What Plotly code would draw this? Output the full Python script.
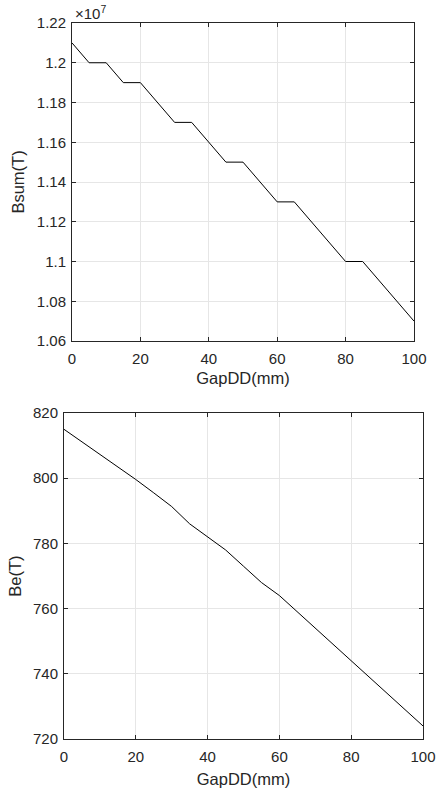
import plotly.graph_objects as go

gap_mm = [0, 5, 10, 15, 20, 25, 30, 35, 40, 45, 50, 55, 60, 65, 70, 75, 80, 85, 90, 95, 100]
bsum_T = [1.21e7, 1.20e7, 1.20e7, 1.19e7, 1.19e7, 1.18e7, 1.17e7, 1.17e7, 1.16e7, 1.15e7, 1.15e7,
          1.14e7, 1.13e7, 1.13e7, 1.12e7, 1.11e7, 1.10e7, 1.10e7, 1.09e7, 1.08e7, 1.07e7]
be_T = [815, 811.2, 807.4, 803.5, 799.6, 795.5, 791.3, 786, 782, 778, 773,
        768, 764, 759, 754, 749, 744, 739, 734, 729, 724]

x_ticks = [0, 20, 40, 60, 80, 100]
bsum_tickvals = [1.06e7, 1.08e7, 1.10e7, 1.12e7, 1.14e7, 1.16e7, 1.18e7, 1.20e7, 1.22e7]
bsum_ticktext = ["1.06", "1.08", "1.1", "1.12", "1.14", "1.16", "1.18", "1.2", "1.22"]
be_ticks = [720, 740, 760, 780, 800, 820]

FONT = "Liberation Sans, Arial, sans-serif"
TXT = "#262626"
TICK_SIZE = 15
TITLE_SIZE = 16.5

fig = go.Figure()
fig.add_trace(go.Scatter(x=gap_mm, y=bsum_T, mode="lines", line=dict(color="black", width=1),
                         xaxis="x", yaxis="y", showlegend=False))
fig.add_trace(go.Scatter(x=gap_mm, y=be_T, mode="lines", line=dict(color="black", width=1),
                         xaxis="x2", yaxis="y2", showlegend=False))

common = dict(showline=True, linecolor=TXT, linewidth=1, mirror="ticks", ticks="inside",
              ticklen=4, tickcolor=TXT, showgrid=True, gridcolor="#e6e6e6", gridwidth=1,
              zeroline=False, automargin=False,
              tickfont=dict(family=FONT, size=TICK_SIZE, color=TXT))
title_font = dict(size=TITLE_SIZE, family=FONT, color=TXT)

fig.update_layout(
    width=437, height=792, margin=dict(l=0, r=0, t=0, b=0),
    paper_bgcolor="white", plot_bgcolor="white",
    font=dict(family=FONT, color=TXT),
    xaxis=dict(domain=[72/437, 414/437], anchor="y", range=[0, 100], tickvals=x_ticks,
               title=dict(text="GapDD(mm)", font=title_font, standoff=6),
               ticklabelstandoff=4, **common),
    yaxis=dict(domain=[(792-341)/792, (792-23)/792], anchor="x", range=[1.06e7, 1.22e7],
               tickvals=bsum_tickvals, ticktext=bsum_ticktext,
               title=dict(text="Bsum(T)", font=title_font, standoff=8),
               ticklabelstandoff=2, **common),
    xaxis2=dict(domain=[64/437, 423/437], anchor="y2", range=[0, 100], tickvals=x_ticks,
                title=dict(text="GapDD(mm)", font=title_font, standoff=9),
                ticklabelstandoff=4, **common),
    yaxis2=dict(domain=[(792-739)/792, (792-413)/792], anchor="x2", range=[720, 820],
                tickvals=be_ticks,
                title=dict(text="Be(T)", font=title_font, standoff=7),
                ticklabelstandoff=2, **common),
    annotations=[dict(text="×10<sup>7</sup>", xref="paper", yref="paper",
                      x=73/437, y=(792-22)/792, xanchor="left", yanchor="bottom",
                      xshift=0, yshift=-2,
                      showarrow=False, font=dict(family=FONT, size=TICK_SIZE, color=TXT))],
)

fig.write_html("out.html", config={"displayModeBar": False},
               post_script="document.documentElement.style.margin='0';"
                           "document.body.style.margin='0';"
                           "document.body.style.overflow='hidden';")
